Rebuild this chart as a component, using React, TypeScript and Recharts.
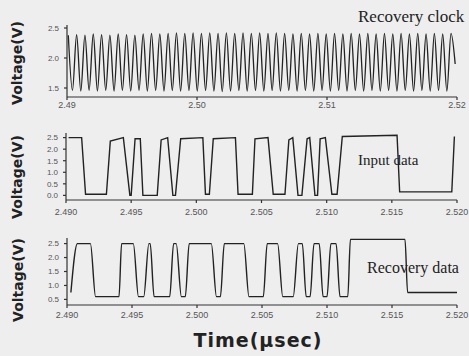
import { LineChart, Line, XAxis, YAxis } from "recharts";

// recovery clock: peak / trough times (µs) and voltages
const clockTime = [
  2.4901, 2.49042, 2.49074, 2.49106, 2.49138, 2.4917, 2.49202, 2.49234, 2.49266, 2.49298,
  2.4933, 2.49362, 2.49394, 2.49426, 2.49458, 2.4949, 2.49522, 2.49554, 2.49586, 2.49618,
  2.4965, 2.49682, 2.49714, 2.49746, 2.49778, 2.4981, 2.49842, 2.49874, 2.49906, 2.49938,
  2.4997, 2.50002, 2.50034, 2.50066, 2.50098, 2.5013, 2.50162, 2.50194, 2.50226, 2.50258,
  2.5029, 2.50322, 2.50354, 2.50386, 2.50418, 2.5045, 2.50482, 2.50514, 2.50546, 2.50578,
  2.5061, 2.50642, 2.50674, 2.50706, 2.50738, 2.5077, 2.50802, 2.50834, 2.50866, 2.50898,
  2.5093, 2.50962, 2.50994, 2.51026, 2.51058, 2.5109, 2.51122, 2.51154, 2.51186, 2.51218,
  2.5125, 2.51282, 2.51314, 2.51346, 2.51378, 2.5141, 2.51442, 2.51474, 2.51506, 2.51538,
  2.5157, 2.51602, 2.51634, 2.51666, 2.51698, 2.5173, 2.51762, 2.51794, 2.51826, 2.51858,
  2.5189, 2.51922, 2.51954, 2.51986,
];
const clockVolt = [
  2.38, 1.46, 2.39, 1.45, 2.38, 1.46, 2.4, 1.45, 2.39, 1.46, 2.38, 1.45, 2.4, 1.46, 2.39, 1.45, 2.38, 1.46, 2.4, 1.45,
  2.41, 1.46, 2.4, 1.45, 2.41, 1.46, 2.42, 1.45, 2.41, 1.46, 2.42, 1.45, 2.41, 1.46, 2.42, 1.45, 2.41, 1.44, 2.42, 1.45,
  2.41, 1.46, 2.42, 1.45, 2.41, 1.46, 2.42, 1.45, 2.41, 1.46, 2.42, 1.45, 2.41, 1.46, 2.4, 1.45, 2.41, 1.46, 2.4, 1.45,
  2.41, 1.46, 2.4, 1.45, 2.41, 1.46, 2.4, 1.45, 2.41, 1.46, 2.4, 1.45, 2.41, 1.46, 2.4, 1.45, 2.41, 1.46, 2.4, 1.45,
  2.41, 1.46, 2.4, 1.45, 2.41, 1.46, 2.4, 1.45, 2.41, 1.46, 2.4, 1.45, 2.41, 1.9,
];

// input data
const inputTime = [
  2.4902, 2.4912, 2.4915, 2.4931, 2.4934, 2.4944, 2.4949, 2.495, 2.4953, 2.4957,
  2.4959, 2.497, 2.4973, 2.4978, 2.4982, 2.4984, 2.4988, 2.5005, 2.5007, 2.501,
  2.5013, 2.503, 2.5032, 2.5043, 2.5045, 2.5055, 2.5059, 2.5068, 2.5071, 2.5074,
  2.5078, 2.5081, 2.5085, 2.5087, 2.5091, 2.5093, 2.5095, 2.5099, 2.5104, 2.5108,
  2.5112, 2.5154, 2.5156, 2.5196, 2.5198,
];
const inputVolt = [
  2.5, 2.5, 0.05, 0.05, 2.35, 2.5, 0.0, 0.0, 2.45, 2.45,
  0.0, 0.0, 2.4, 2.5, 0.0, 0.0, 2.45, 2.5, 0.05, 0.05,
  2.45, 2.5, 0.05, 0.05, 2.45, 2.5, 0.05, 0.05, 2.4, 2.5,
  0.0, 0.0, 2.45, 2.5, 0.0, 0.0, 2.45, 2.5, 0.05, 0.05,
  2.55, 2.6, 0.15, 0.15, 2.55,
];

// recovery data
const recTime = [
  2.4903, 2.4908, 2.4918, 2.4922, 2.494, 2.4942, 2.4951, 2.4955, 2.4959, 2.4963,
  2.4964, 2.4967, 2.4979, 2.4982, 2.4984, 2.4988, 2.4991, 2.4994, 2.5011, 2.5015,
  2.5018, 2.5021, 2.5036, 2.504, 2.5051, 2.5054, 2.5062, 2.5066, 2.5074, 2.5078,
  2.5081, 2.5084, 2.5087, 2.509, 2.5094, 2.5097, 2.51, 2.5103, 2.5107, 2.511,
  2.5116, 2.5118, 2.516, 2.5162, 2.52,
];
const recVolt = [
  0.75, 2.5, 2.5, 0.6, 0.6, 2.5, 2.5, 0.6, 0.6, 2.5,
  2.5, 0.6, 0.6, 2.5, 2.5, 0.6, 0.6, 2.5, 2.5, 0.6,
  0.6, 2.5, 2.5, 0.6, 0.6, 2.5, 2.5, 0.6, 0.6, 2.5,
  2.5, 0.6, 0.6, 2.5, 2.5, 0.6, 0.6, 2.5, 2.5, 0.6,
  0.6, 2.65, 2.65, 0.75, 0.75,
];

const topXTicks = [2.49, 2.5, 2.51, 2.52];
const topYTicks = [1.5, 2.0, 2.5];
const dataXTicks = [2.49, 2.495, 2.5, 2.505, 2.51, 2.515, 2.52];
const inputYTicks = [0, 0.5, 1.0, 1.5, 2.0, 2.5];
const recYTicks = [0.5, 1.0, 1.5, 2.0, 2.5];

const zip = (t: number[], v: number[]) => t.map((x, i) => ({ t: x, v: v[i] }));

const tickStyle = { fontSize: 9, fill: "#555", fontFamily: "Liberation Sans, Arial, sans-serif" };
const yTickStyle = { fontSize: 8, fill: "#555", fontFamily: "Liberation Sans, Arial, sans-serif" };
const axisLine = { stroke: "#333", strokeWidth: 1.2 };
const ink = "#222";

export default function App() {
  return (
    <div
      style={{
        position: "absolute",
        left: 0,
        top: 0,
        width: 469,
        height: 356,
        background: "#eeeeee",
        overflow: "hidden",
      }}
    >
      <div style={{ position: "absolute", left: 0, top: 0 }}>
        <LineChart width={469} height={120} data={zip(clockTime, clockVolt)} margin={{ top: 25, right: 12, bottom: 5, left: 37 }}>
          <XAxis
            dataKey="t"
            type="number"
            domain={[2.49, 2.52]}
            ticks={topXTicks}
            interval={0}
            tickFormatter={(v: number) => v.toFixed(2)}
            height={18}
            tick={tickStyle}
            tickSize={3}
            tickMargin={2}
            axisLine={axisLine}
            tickLine={axisLine}
            allowDataOverflow
          />
          <YAxis
            type="number"
            domain={[1.35, 2.55]}
            ticks={topYTicks}
            interval={0}
            tickFormatter={(v: number) => v.toFixed(1)}
            width={30}
            tick={yTickStyle}
            tickSize={3}
            tickMargin={5}
            axisLine={axisLine}
            tickLine={axisLine}
            allowDataOverflow
          />
          <Line dataKey="v" type="monotone" stroke={ink} strokeWidth={1.3} dot={false} isAnimationActive={false} />
        </LineChart>
      </div>

      <div style={{ position: "absolute", left: 0, top: 110 }}>
        <LineChart width={469} height={120} data={zip(inputTime, inputVolt)} margin={{ top: 23, right: 12, bottom: 10, left: 36 }}>
          <XAxis
            dataKey="t"
            type="number"
            domain={[2.49, 2.52]}
            ticks={dataXTicks}
            interval={0}
            tickFormatter={(v: number) => v.toFixed(3)}
            height={20}
            tick={tickStyle}
            tickSize={3}
            tickMargin={6}
            axisLine={axisLine}
            tickLine={axisLine}
            allowDataOverflow
          />
          <YAxis
            type="number"
            domain={[-0.2, 2.7]}
            ticks={inputYTicks}
            interval={0}
            tickFormatter={(v: number) => v.toFixed(1)}
            width={30}
            tick={yTickStyle}
            tickSize={3}
            tickMargin={5}
            axisLine={axisLine}
            tickLine={axisLine}
            allowDataOverflow
          />
          <Line dataKey="v" type="linear" stroke={ink} strokeWidth={1.4} dot={false} isAnimationActive={false} />
        </LineChart>
      </div>

      <div style={{ position: "absolute", left: 0, top: 225 }}>
        <LineChart width={469} height={100} data={zip(recTime, recVolt)} margin={{ top: 13, right: 12, bottom: 4, left: 37 }}>
          <XAxis
            dataKey="t"
            type="number"
            domain={[2.49, 2.52]}
            ticks={dataXTicks}
            interval={0}
            tickFormatter={(v: number) => v.toFixed(3)}
            height={16}
            tick={tickStyle}
            tickSize={3}
            tickMargin={4}
            axisLine={axisLine}
            tickLine={axisLine}
            allowDataOverflow
          />
          <YAxis
            type="number"
            domain={[0.3, 2.7]}
            ticks={recYTicks}
            interval={0}
            tickFormatter={(v: number) => v.toFixed(1)}
            width={30}
            tick={yTickStyle}
            tickSize={3}
            tickMargin={5}
            axisLine={axisLine}
            tickLine={axisLine}
            allowDataOverflow
          />
          <Line dataKey="v" type="monotone" stroke={ink} strokeWidth={1.4} dot={false} isAnimationActive={false} />
        </LineChart>
      </div>

      <svg width={469} height={356} style={{ position: "absolute", left: 0, top: 0, pointerEvents: "none" }}>
        <g fontFamily="DejaVu Sans, sans-serif" fontWeight="bold" fontSize={14} fill={ink} textAnchor="middle">
          <text x={17} y={63} transform="rotate(-90 17 63)" dominantBaseline="central">Voltage(V)</text>
          <text x={17} y={177} transform="rotate(-90 17 177)" dominantBaseline="central">Voltage(V)</text>
          <text x={18} y={280} transform="rotate(-90 18 280)" dominantBaseline="central">Voltage(V)</text>
          <text x={258} y={347} fontSize={19} letterSpacing={1}>Time(µsec)</text>
        </g>
        <g fontFamily="Liberation Serif, Times New Roman, serif" fill={ink}>
          <text x={358} y={22} fontSize={17}>Recovery clock</text>
          <text x={358} y={165} fontSize={15}>Input data</text>
          <text x={367} y={273} fontSize={16}>Recovery data</text>
        </g>
      </svg>
    </div>
  );
}
